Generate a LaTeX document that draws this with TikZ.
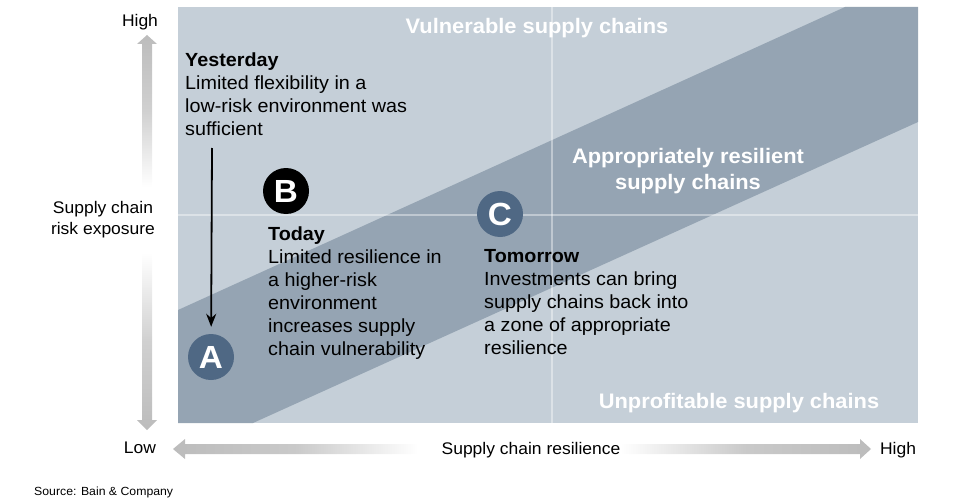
\documentclass[tikz,border=0pt]{standalone}
\usepackage{fontspec}
\setmainfont{Liberation Sans}[FakeStretch=1.04]
\usetikzlibrary{arrows.meta}
\definecolor{zonelight}{RGB}{197,207,216}
\definecolor{zoneband}{RGB}{149,164,179}
\definecolor{dotblue}{RGB}{79,104,132}
\definecolor{axisgray}{RGB}{188,188,188}
\tikzset{
  zonetitle/.style={text=white,font=\fontsize{21}{26}\selectfont\bfseries,inner sep=0,align=center},
  bodytext/.style={font=\fontsize{19}{23}\selectfont,inner sep=0,align=left,anchor=north west,text=black},
  axislabel/.style={font=\fontsize{16.8}{21}\selectfont,inner sep=0,align=center,text=black},
  marker/.style={circle,minimum size=46pt,inner sep=0,text=white,font=\fontsize{32}{32}\selectfont\bfseries},
  gridline/.style={white,opacity=0.4,line width=2pt},
}
\begin{document}
\begin{tikzpicture}[x=1pt,y=-1pt]
\useasboundingbox (0,0) rectangle (960,500);
% zones
\fill[zonelight] (178,7) rectangle (918,423);
\fill[zoneband] (178,310) -- (845,7) -- (918,7) -- (918,122) -- (253,423) -- (178,423) -- cycle;
\draw[gridline] (552,7) -- (552,423);
\draw[gridline] (178,215) -- (918,215);
% zone titles
\node[zonetitle,anchor=base] (vuln) at (537,34) {Vulnerable supply chains};
\node[zonetitle,anchor=north] (appr) at (688,148) {Appropriately resilient\\supply chains};
\node[zonetitle,anchor=base] (unprof) at (739,408) {Unprofitable supply chains};
% text blocks
\node[bodytext] (yest) at (185,52.3) {\textbf{Yesterday}\\Limited flexibility in a\\low-risk environment was\\sufficient};
\node[bodytext] (today) at (268,226.3) {\textbf{Today}\\Limited resilience in\\a higher-risk\\environment\\increases supply\\chain vulnerability};
\node[bodytext] (tomorrow) at (484,249.3) {\textbf{Tomorrow}\\Investments can bring\\supply chains back into\\a zone of appropriate\\resilience};
% markers
\node[marker,fill=dotblue] (A) at (211,357) {A};
\node[marker,fill=black] (B) at (286,191) {B};
\node[marker,fill=dotblue] (C) at (500,214) {C};
\coordinate (ystart) at (212,148);
\draw[line width=1.8pt,-{Stealth[length=13pt,width=10pt]},shorten >=7pt] (ystart) -- (A);
% axis arrows
\shade[top color=axisgray,bottom color=white,middle color=axisgray!70] (142,187) -- (142,44) -- (137,44) -- (147,35) -- (157,44) -- (152,44) -- (152,187) -- cycle;
\shade[top color=white,bottom color=axisgray,middle color=axisgray!70] (142,253) -- (142,420) -- (137,420) -- (147,430) -- (157,420) -- (152,420) -- (152,253) -- cycle;
\shade[left color=axisgray,right color=white,middle color=axisgray!80] (418,444) -- (185,444) -- (185,439) -- (173,449) -- (185,459) -- (185,454) -- (418,454) -- cycle;
\shade[left color=white,right color=axisgray,middle color=axisgray!80] (620,444) -- (860,444) -- (860,439) -- (871,449) -- (860,459) -- (860,454) -- (620,454) -- cycle;
% axis labels
\node[axislabel,anchor=base] (yhigh) at (140,27) {High};
\node[axislabel,anchor=base] (ylow) at (140,453) {Low};
\node[axislabel,anchor=north] (ytitle) at (103,201) {Supply chain\\risk exposure};
\node[axislabel,anchor=base] (xtitle) at (531,454) {Supply chain resilience};
\node[axislabel,anchor=base] (xhigh) at (898,454) {High};
\node[font=\fontsize{11.8}{14}\selectfont,inner sep=0,anchor=base west] (src) at (34,495) {Source: Bain \& Company};
\end{tikzpicture}
\end{document}
